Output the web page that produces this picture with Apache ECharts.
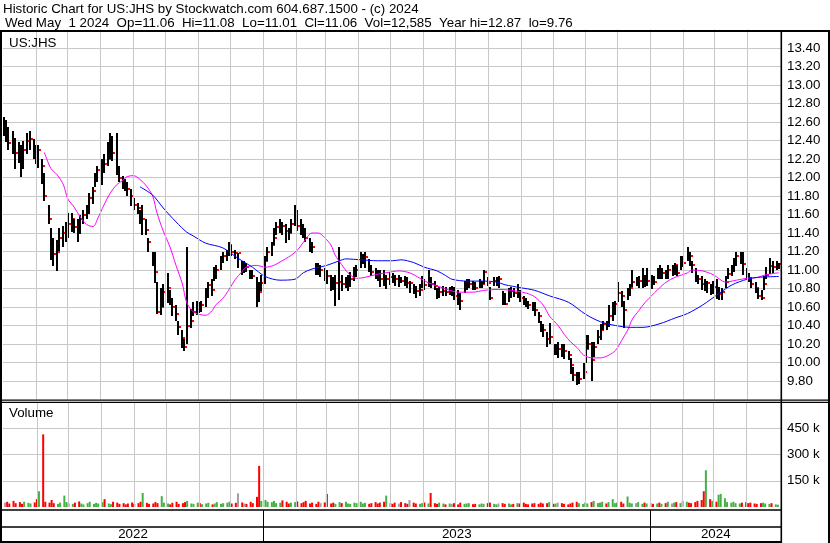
<!DOCTYPE html>
<html>
<head>
<meta charset="utf-8">
<script src="https://cdn.jsdelivr.net/npm/echarts@6/dist/echarts.min.js"></script>
<style>
html,body{margin:0;padding:0;background:#fff;}
#chart{width:830px;height:543px;}
</style>
</head>
<body>
<div id="chart"></div>
<script>
// ---- data (one bar = two trading days) ----
const closes = [
12.55,12.5,12.37,12.32,12.27,12.25,12.22,12.3,12.4,12.42,
12.3,12.28,12.3,12.12,11.8,11.55,11.25,11.17,11.2,11.35,
11.4,11.42,11.5,11.55,11.47,11.45,11.55,11.6,11.62,11.78,
11.85,11.98,12.08,12.18,12.15,12.2,12.32,12.27,12.1,12.0,
11.92,11.9,11.88,11.8,11.7,11.67,11.5,11.55,11.43,11.3,
11.13,10.98,10.55,10.6,10.76,10.8,10.68,10.6,10.52,10.38,
10.27,10.17,10.4,10.45,10.55,10.6,10.58,10.62,10.72,10.84,
10.78,10.97,11.0,11.1,11.15,11.2,11.27,11.2,11.18,11.18,
11.05,11.05,11.03,10.95,10.93,10.86,10.76,10.86,11.1,11.2,
11.27,11.35,11.47,11.5,11.48,11.42,11.4,11.5,11.62,11.48,
11.45,11.43,11.35,11.27,11.25,11.05,11.0,11.0,10.95,10.94,
10.88,10.84,10.86,10.87,10.85,10.86,10.87,10.9,10.97,11.0,
11.1,11.12,11.14,11.03,10.98,10.96,10.94,10.9,10.85,10.9,
10.92,10.91,10.9,10.9,10.88,10.87,10.86,10.86,10.79,10.77,
10.78,10.86,10.84,10.9,10.85,10.83,10.72,10.76,10.77,10.76,
10.78,10.78,10.72,10.7,10.66,10.82,10.84,10.85,10.82,10.8,
10.84,10.85,10.98,10.86,10.7,10.88,10.9,10.9,10.65,10.63,
10.72,10.77,10.75,10.77,10.7,10.65,10.64,10.62,10.58,10.57,
10.5,10.4,10.35,10.25,10.28,10.12,10.15,10.15,10.14,10.12,
10.08,9.97,9.86,9.79,9.82,9.9,10.15,10.2,10.03,10.17,
10.28,10.35,10.42,10.4,10.5,10.57,10.63,10.75,10.72,10.57,
10.75,10.8,10.87,10.87,10.88,10.93,10.87,10.88,10.88,10.87,
10.96,10.95,10.97,10.96,11.0,11.0,11.05,10.97,11.07,11.08,
11.18,11.15,11.05,10.93,10.9,10.85,10.83,10.86,10.78,10.82,
10.7,10.74,10.76,10.87,10.96,11.0,11.08,11.15,11.17,11.07,
10.95,10.9,10.85,10.8,10.72,10.7,10.85,10.95,11.04,11.03,
11.05,11.06
];
const highs = [
12.65,12.62,12.55,12.5,12.43,12.38,12.35,12.4,12.48,12.5,
12.42,12.35,12.35,12.2,12.05,11.7,11.45,11.35,11.32,11.45,
11.48,11.52,11.62,11.62,11.55,11.55,11.6,11.65,11.7,11.83,
11.9,12.05,12.12,12.2,12.25,12.38,12.48,12.45,12.48,12.12,
12.02,11.98,11.95,11.88,11.78,11.72,11.65,11.7,11.55,11.35,
11.2,11.2,10.87,10.8,10.85,10.97,10.78,10.7,10.62,10.45,
10.35,10.25,11.25,10.58,10.65,10.67,10.65,10.66,10.8,10.87,
10.9,11.03,11.05,11.15,11.2,11.22,11.3,11.27,11.22,11.18,
11.1,11.1,11.08,11.0,11.0,10.92,10.87,10.95,11.15,11.25,
11.3,11.45,11.52,11.55,11.52,11.5,11.45,11.55,11.7,11.65,
11.55,11.5,11.45,11.35,11.3,11.08,11.08,11.05,11.02,11.0,
10.95,10.92,10.95,11.25,10.95,10.92,10.95,10.98,11.03,11.05,
11.2,11.17,11.2,11.12,11.05,11.02,11.0,11.0,11.0,10.95,
10.98,10.97,10.95,10.95,10.92,10.93,10.92,10.88,10.85,10.83,
10.85,10.93,10.9,11.0,10.92,10.88,10.8,10.82,10.83,10.82,
10.82,10.83,10.82,10.78,10.75,10.88,10.9,10.9,10.88,10.87,
10.9,10.88,11.0,10.92,10.82,10.92,10.92,10.93,10.77,10.75,
10.8,10.82,10.8,10.85,10.78,10.72,10.7,10.67,10.65,10.65,
10.55,10.45,10.42,10.33,10.43,10.2,10.2,10.22,10.2,10.2,
10.12,10.05,9.95,9.9,9.9,10.0,10.3,10.3,10.22,10.22,
10.35,10.42,10.45,10.45,10.62,10.65,10.67,10.87,10.77,10.67,
10.8,10.85,11.0,10.92,10.93,11.02,10.95,11.02,10.95,10.93,
11.02,11.05,11.02,11.0,11.05,11.05,11.08,11.05,11.15,11.15,
11.25,11.2,11.1,11.02,10.95,10.93,10.9,10.88,10.85,10.88,
10.9,10.82,10.8,10.93,11.02,11.05,11.13,11.2,11.2,11.2,
11.02,10.97,10.92,10.87,10.8,10.78,10.93,11.03,11.13,11.1,
11.1,11.08
];
const lows = [
12.45,12.38,12.3,12.25,12.1,12.15,12.0,12.1,12.25,12.3,
12.2,12.15,12.1,11.93,11.75,11.5,11.1,11.05,10.98,11.2,
11.25,11.3,11.35,11.42,11.4,11.3,11.4,11.5,11.55,11.6,
11.72,11.9,11.95,11.92,12.05,12.12,12.2,12.18,12.03,11.95,
11.88,11.85,11.8,11.7,11.65,11.6,11.5,11.38,11.38,11.2,
11.05,10.87,10.52,10.51,10.6,10.65,10.62,10.5,10.45,10.3,
10.16,10.12,10.2,10.37,10.5,10.52,10.53,10.54,10.6,10.7,
10.72,10.88,10.9,11.0,11.08,11.1,11.15,11.15,11.12,11.02,
10.95,10.97,10.98,10.9,10.9,10.6,10.65,10.78,10.85,11.1,
11.15,11.27,11.38,11.4,11.38,11.3,11.32,11.4,11.47,11.42,
11.38,11.35,11.3,11.2,11.18,10.95,10.95,10.92,10.88,10.85,
10.78,10.78,10.62,10.68,10.78,10.8,10.78,10.82,10.88,10.92,
11.03,11.06,11.03,10.98,10.93,10.9,10.88,10.82,10.83,10.8,
10.84,10.86,10.83,10.82,10.85,10.82,10.8,10.75,10.74,10.7,
10.72,10.8,10.78,10.82,10.8,10.78,10.68,10.7,10.72,10.72,
10.73,10.72,10.68,10.62,10.57,10.75,10.78,10.8,10.78,10.78,
10.8,10.8,10.85,10.82,10.68,10.82,10.82,10.8,10.62,10.62,
10.65,10.7,10.7,10.7,10.65,10.62,10.6,10.58,10.55,10.5,
10.43,10.33,10.28,10.17,10.2,10.08,10.08,10.05,10.06,10.04,
10.02,9.88,9.8,9.76,9.77,9.83,10.0,10.15,9.8,10.06,
10.2,10.25,10.35,10.35,10.38,10.45,10.52,10.65,10.6,10.38,
10.67,10.72,10.82,10.82,10.8,10.8,10.82,10.82,10.8,10.83,
10.9,10.9,10.9,10.9,10.9,10.93,10.95,10.93,11.0,11.03,
11.1,11.05,10.97,10.87,10.85,10.78,10.77,10.75,10.73,10.74,
10.68,10.68,10.67,10.8,10.9,10.93,10.98,11.05,11.07,10.95,
10.9,10.87,10.8,10.75,10.68,10.67,10.78,10.9,10.96,10.97,
11.0,11.01
];
// volume in thousands of shares
const volumesK = [
25,30,20,35,22,28,18,30,24,20,
26,45,90,415,30,25,40,22,18,25,
65,28,20,18,25,32,20,15,22,30,
18,24,20,28,45,20,16,30,25,18,
22,15,20,26,18,22,30,80,24,18,
20,28,22,62,25,20,15,24,30,18,
22,28,35,20,18,25,22,16,20,24,
15,20,28,18,22,25,30,20,24,78,
26,20,18,30,22,58,235,35,40,30,
28,35,22,25,38,30,20,25,28,32,
22,28,35,20,25,18,30,22,26,75,
20,25,18,28,22,30,20,18,25,22,
30,20,24,18,22,28,20,25,30,65,
22,18,25,20,28,22,18,40,25,20,
18,22,26,20,80,22,18,25,20,15,
20,18,22,15,25,18,20,22,16,18,
15,20,18,22,25,18,15,20,22,18,
20,15,18,22,20,25,18,15,20,22,
18,25,20,22,28,18,20,25,22,18,
15,20,25,30,22,18,25,20,28,35,
22,25,30,20,28,45,22,25,30,20,
60,25,20,22,28,18,25,20,22,18,
20,25,18,22,30,20,25,28,22,35,
30,25,22,28,35,40,90,210,45,35,
30,70,75,50,28,25,30,22,20,25,
28,22,25,20,18,22,25,20,18,22,
15,13
];
// moving averages (bar index, value)
const maShortIdx = [14,16,18,20,22,24,26,28,30,32,34,36,38,40,42,44,46,48,50,52,54,56,58,60,62,64,66,68,70,72,74,76,78,80,82,85,88,91,94,96,99,102,104,106,108,110,112,114,116,119,122,125,129,133,137,140,143,147,150,153,158,162,167,171,176,179,182,184,187,189,191,193,195,198,201,204,206,208,210,212,214,216,218,220,223,226,230,232,235,239,243,247,250,254,257,261];
const maShortVal = [12.27,12.1,12.03,11.92,11.77,11.68,11.57,11.49,11.47,11.55,11.7,11.83,11.92,11.97,12.01,12.02,11.98,11.91,11.8,11.62,11.42,11.26,11.05,10.85,10.65,10.55,10.52,10.51,10.56,10.63,10.69,10.79,10.9,10.98,11.03,11.05,11.03,11.05,11.1,11.14,11.21,11.33,11.4,11.4,11.35,11.27,11.16,11.06,10.97,10.91,10.92,10.95,10.97,10.99,10.97,10.91,10.86,10.82,10.78,10.76,10.76,10.78,10.79,10.78,10.75,10.71,10.62,10.5,10.4,10.3,10.22,10.16,10.08,10.05,10.05,10.08,10.13,10.24,10.36,10.47,10.56,10.65,10.72,10.79,10.87,10.92,10.97,11.0,10.99,10.95,10.87,10.89,10.91,10.92,10.95,10.97];
const maLongIdx = [46,50,54,58,62,64,68,74,79,84,88,93,98,101,104,109,113,115,120,126,131,134,138,142,146,149,151,156,162,166,169,174,179,184,190,196,201,206,211,215,221,226,230,235,241,245,250,254,261];
const maLongVal = [11.9,11.81,11.67,11.52,11.41,11.37,11.29,11.24,11.13,11.03,10.93,10.89,10.9,10.97,11.01,11.05,11.1,11.12,11.11,11.1,11.1,11.11,11.08,11.03,10.99,10.94,10.9,10.88,10.88,10.87,10.84,10.81,10.78,10.72,10.65,10.52,10.44,10.4,10.38,10.38,10.42,10.48,10.53,10.62,10.75,10.84,10.9,10.92,10.93];
// calendar ticks
const monthStarts = ['2022-06-01','2022-07-01','2022-08-01','2022-09-01','2022-10-01','2022-11-01','2022-12-01',
  '2023-01-01','2023-02-01','2023-03-01','2023-04-01','2023-05-01','2023-06-01','2023-07-01','2023-08-01','2023-09-01','2023-10-01','2023-11-01','2023-12-01',
  '2024-01-01','2024-02-01','2024-03-01','2024-04-01'];
const yearLabels = ['2022','2023','2024'];
const yearStarts = ['2023-01-01','2024-01-01'];
const lastDate = '2024-05-01';
const axisStart = '2022-05-01', axisEnd = '2024-05-03';
// header texts
const titleText = 'Historic Chart for US:JHS by Stockwatch.com 604.687.1500 - (c) 2024';
const quoteFields = ['Wed May  1 2024','Op=11.06','Hi=11.08','Lo=11.01','Cl=11.06','Vol=12,585','Year hi=12.87','lo=9.76'];

// ---- build ----
function ts(s){const p=s.split('-').map(Number);return Date.UTC(p[0],p[1]-1,p[2]);}
const DAY=86400000;
const N = closes.length;
const barDates = [];
{ let d = ts(lastDate);
  for (let k=0;k<N;k++){ barDates.unshift(d);
    let s=0; while(s<2){ d-=DAY; const wd=new Date(d).getUTCDay(); if(wd!==0&&wd!==6) s++; } } }
const xMin = ts(axisStart), xMax = ts(axisEnd);
const FONT = '"Liberation Sans", Arial, sans-serif';
const FS = 13.33;
const GRID = '#c8c8c8';

const ohlc = barDates.map((t,i)=>[t, highs[i], lows[i], closes[i]]);
const volData = barDates.map((t,i)=>{
  let c = '#a0a0a0';
  if (i>0) c = closes[i]>closes[i-1] ? '#45b045' : (closes[i]<closes[i-1] ? '#ff0000' : '#a0a0a0');
  return {value:[t, volumesK[i]], itemStyle:{color:c}};
});
const maShort = maShortIdx.map((k,j)=>[barDates[k], maShortVal[j]]);
const maLong = maLongIdx.map((k,j)=>[barDates[k], maLongVal[j]]);
const monthLines = monthStarts.map(m=>({xAxis: ts(m)}));
const yearBounds = [xMin].concat(yearStarts.map(ts)).concat([xMax]);
const yearAreas = yearLabels.map((y,k)=>[{xAxis: yearBounds[k], yAxis: 0, name: y},{xAxis: yearBounds[k+1], yAxis: 0.45}]);

const gridMark = {silent:true, symbol:['none','none'], animation:false,
  label:{show:false}, lineStyle:{color:GRID, width:1, type:'solid'}, emphasis:{disabled:true}, data: monthLines};

const xAx = g => ({type:'time', gridIndex:g, min:xMin, max:xMax,
  axisLine:{show:false}, axisTick:{show:false}, axisLabel:{show:false}, splitLine:{show:false}});

function priceLabel(v){ if (Math.abs(v-9.6)<1e-6 || Math.abs(v-13.6)<1e-6) return ''; return v.toFixed(2); }
function volLabel(v){ if (v<=0 || v>=600) return ''; return Math.round(v)+' k'; }

const headerGraphics = [
  {type:'text', z:100, style:{x:3, y:9, text:titleText, fill:'#000', font:FS+'px '+FONT, verticalAlign:'middle'}},
  {type:'text', z:100, style:{x:5, y:23, text:quoteFields.join('  '), fill:'#000', font:FS+'px '+FONT, verticalAlign:'middle'}}
];

const option = {
  animation:false,
  backgroundColor:'#ffffff',
  grid:[
    {left:3, right:49, top:29.5, height:370},
    {left:3, right:49, top:402, height:105},
    {left:3, right:49, top:510, height:31}
  ],
  xAxis:[xAx(0), xAx(1), xAx(2)],
  yAxis:[
    {type:'value', gridIndex:0, position:'right', min:9.6, max:13.6, interval:0.2,
     axisLine:{show:false}, axisTick:{show:false},
     axisLabel:{margin:6, color:'#000', fontSize:FS, fontFamily:FONT, formatter:priceLabel},
     splitLine:{show:true, showMinLine:false, showMaxLine:false, lineStyle:{color:GRID, width:1}}},
    {type:'value', gridIndex:1, position:'right', min:0, max:600, interval:150,
     axisLine:{show:false}, axisTick:{show:false},
     axisLabel:{margin:6, color:'#000', fontSize:FS, fontFamily:FONT, formatter:volLabel},
     splitLine:{show:true, showMinLine:false, showMaxLine:false, lineStyle:{color:GRID, width:1}}},
    {type:'value', gridIndex:2, min:0, max:1, show:false}
  ],
  series:[
    {type:'line', xAxisIndex:0, yAxisIndex:0, z:1, data:[[xMin,9.6]], showSymbol:false, silent:true,
     lineStyle:{width:0}, markLine:gridMark},
    {type:'custom', xAxisIndex:0, yAxisIndex:0, z:3, silent:true, clip:true,
     data: ohlc, encode:{x:0, y:[1,2,3]},
     renderItem:function(params, api){
       const t=api.value(0), h=api.value(1), l=api.value(2), c=api.value(3);
       const pH=api.coord([t,h]), pL=api.coord([t,l]), pC=api.coord([t,c]);
       const x=Math.round(pH[0]);
       return {type:'group', children:[
         {type:'rect', shape:{x:x-1, y:Math.round(pH[1]), width:2, height:Math.max(2, Math.round(pL[1]-pH[1]))}, style:{fill:'#000'}},
         {type:'rect', shape:{x:x+1, y:Math.round(pC[1])-1, width:2, height:2}, style:{fill:'#ff0000'}}
       ]};
     }},
    {type:'line', xAxisIndex:0, yAxisIndex:0, z:4, data: maShort, smooth:0.3, showSymbol:false, silent:true,
     lineStyle:{color:'#ff00ff', width:1}},
    {type:'line', xAxisIndex:0, yAxisIndex:0, z:4, data: maLong, smooth:0.3, showSymbol:false, silent:true,
     lineStyle:{color:'#0000ff', width:1}},
    {type:'line', xAxisIndex:1, yAxisIndex:1, z:1, data:[[xMin,0]], showSymbol:false, silent:true,
     lineStyle:{width:0}, markLine:gridMark},
    {type:'bar', xAxisIndex:1, yAxisIndex:1, z:3, data: volData, barWidth:2, silent:true},
    {type:'line', xAxisIndex:2, yAxisIndex:2, z:3, data:[[xMin,0]], showSymbol:false, silent:true,
     lineStyle:{width:0},
     markLine:{silent:true, symbol:['none','none'], label:{show:false}, emphasis:{disabled:true},
       lineStyle:{color:'#000', width:1, type:'solid'}, data: yearStarts.map(y=>({xAxis: ts(y)}))},
     markArea:{silent:true, itemStyle:{color:'rgba(0,0,0,0)'}, emphasis:{disabled:true},
       label:{show:true, position:'inside', color:'#000', fontSize:FS, fontFamily:FONT},
       data: yearAreas}}
  ],
  graphic: headerGraphics.concat([
    {type:'text', z:100, style:{x:9, y:43, text:'US:JHS', fill:'#000', font:FS+'px '+FONT, verticalAlign:'middle'}},
    {type:'text', z:100, style:{x:9, y:413, text:'Volume', fill:'#000', font:FS+'px '+FONT, verticalAlign:'middle'}},
    {type:'rect', z:100, shape:{x:0, y:30, width:830, height:2}, style:{fill:'#000'}},
    {type:'rect', z:100, shape:{x:0, y:30, width:2, height:513}, style:{fill:'#000'}},
    {type:'rect', z:100, shape:{x:0, y:399.5, width:830, height:1.3}, style:{fill:'#000'}},
    {type:'rect', z:100, shape:{x:0, y:401.8, width:830, height:1.3}, style:{fill:'#000'}},
    {type:'rect', z:100, shape:{x:0, y:509.3, width:782, height:1.5}, style:{fill:'#000'}},
    {type:'rect', z:100, shape:{x:0, y:526.3, width:782, height:1.5}, style:{fill:'#000'}},
    {type:'rect', z:100, shape:{x:0, y:541, width:782, height:2}, style:{fill:'#000'}},
    {type:'rect', z:100, shape:{x:780.5, y:30, width:1.6, height:513}, style:{fill:'#000'}},
    {type:'rect', z:100, shape:{x:828, y:30, width:2, height:513}, style:{fill:'#000'}}
  ])
};
const chart = echarts.init(document.getElementById('chart'), null, {renderer:'canvas'});
chart.setOption(option);
</script>
</body>
</html>
